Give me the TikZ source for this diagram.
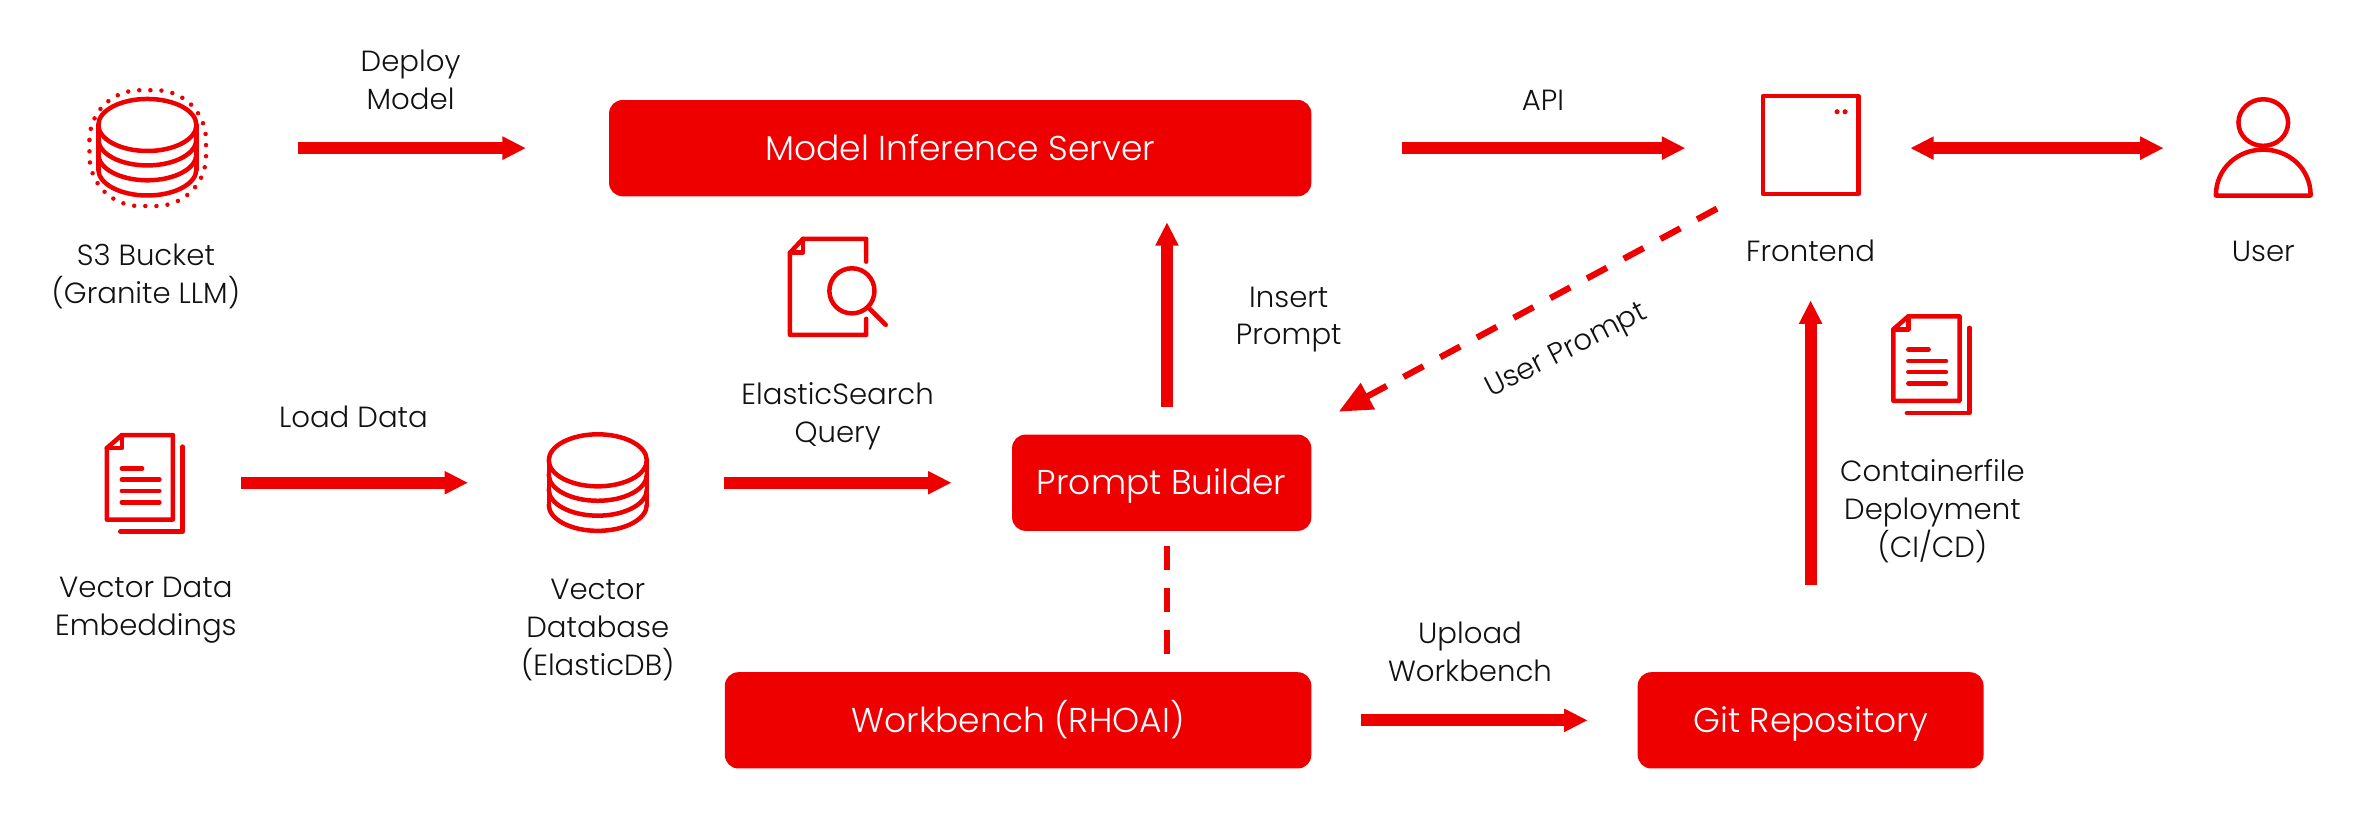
\documentclass[tikz,border=0pt]{standalone}
\usepackage{xcolor}
\usepackage{fontspec}
\setmainfont{Poppins Light}
\definecolor{hatred}{HTML}{EE0000}
\definecolor{inkblack}{HTML}{111111}
\usetikzlibrary{arrows.meta}
\def\unitpx{0.03008cm}
\tikzset{
    boxnode/.style={fill=hatred, text=white, rounded corners=0.27cm, minimum height=1.925cm, inner sep=0pt, text height=16pt, text depth=2.2pt, font=\fontsize{19.6}{24}\selectfont},
    iconspot/.style={minimum size=66*\unitpx, inner sep=0pt},
    labeltext/.style={align=center, text=inkblack, inner sep=0pt},
    iconline/.style={draw=hatred, line width=0.09cm, line join=round, line cap=round},
    flowarrow/.style={draw=hatred, line width=0.24cm, -{Triangle[length=0.47cm,width=0.435cm]}},
    diagdash/.style={draw=hatred, line width=0.125cm, dash pattern=on 15*\unitpx off 12.7*\unitpx},
    vertdash/.style={draw=hatred, line width=0.12cm, dash pattern=on 16.4*\unitpx off 11.7*\unitpx},
    docicon/.pic={
        \draw[iconline] (0,10) -- (10,1.3) -- (44,1.3) -- (44,57.5) -- (0,57.5) -- cycle;
        \draw[iconline] (0,10) -- (10,10) -- (10,1.3);
        \draw[iconline] (50.5,9) -- (50.5,65.5) -- (9,65.5);
        \draw[iconline] (10,23.5) -- (23.5,23.5);
        \draw[iconline] (10,31) -- (35,31);
        \draw[iconline] (10,38.4) -- (35,38.4);
        \draw[iconline] (10,46) -- (35,46);
    },
    dbicon/.pic={
        \draw[iconline] (0,18.6) ellipse [x radius=32.6, y radius=17.3];
        \draw[iconline] (-32.6,18.6) -- (-32.6,48.2);
        \draw[iconline] (32.6,18.6) -- (32.6,48.2);
        \draw[iconline] (-32.6,28.2) arc [start angle=180, end angle=0, x radius=32.6, y radius=17.3];
        \draw[iconline] (-32.6,38.1) arc [start angle=180, end angle=0, x radius=32.6, y radius=17.3];
        \draw[iconline] (-32.6,48.2) arc [start angle=180, end angle=0, x radius=32.6, y radius=17.3];
    }
}

\begin{document}
\begin{tikzpicture}[x=\unitpx, y=-\unitpx]
    \fontsize{16.6}{21.6}\selectfont
    \useasboundingbox (0,0) rectangle (1568,544);

    % Boxes
    \node[boxnode, minimum width=467*\unitpx] (model) at (638.5,98.5) {Model Inference Server};
    \node[boxnode, minimum width=199*\unitpx] (prompt) at (772.5,321) {Prompt Builder};
    \node[boxnode, minimum width=390*\unitpx] (workbench) at (677,479) {Workbench (RHOAI)};
    \node[boxnode, minimum width=230*\unitpx] (git) at (1204,479) {Git Repository};

    % Icon places
    \node[iconspot] (s3) at (98,98.5) {};
    \node[iconspot] (frontend) at (1204,98.5) {};
    \node[iconspot] (user) at (1505,98.5) {};
    \node[iconspot] (embeddings) at (97,321) {};
    \node[iconspot] (vectordb) at (397.5,321) {};

    % S3 icon
    \pic at (98,64.5) {dbicon};
    \draw[draw=hatred, line width=0.09cm, line cap=round, dash pattern=on 0pt off 7.4*\unitpx, rounded corners=1cm] (59.5,60) rectangle (137,137);

    % Frontend icon
    \draw[iconline] (1172.3,64) rectangle (1235.7,129);
    \fill[hatred] (1221.6,74.3) circle (1.7);
    \fill[hatred] (1226.9,74.3) circle (1.7);

    % User icon
    \draw[iconline] (1505,81.5) ellipse [x radius=16.5, y radius=15.5];
    \draw[iconline] (1473.5,130) .. controls (1473.5,112) and (1488,99.5) .. (1505,99.5) .. controls (1522,99.5) and (1536.5,112) .. (1536.5,130) -- cycle;

    % Document icons
    \pic at (71,288) {docicon};
    \pic at (1259,209) {docicon};
    \pic at (397.5,287.5) {dbicon};

    % Search icon
    \draw[iconline] (576,174) -- (576,158.8) -- (534,158.8) -- (525.3,168) -- (525.3,222.7) -- (576,222.7) -- (576,212);
    \draw[iconline] (525.3,168) -- (534,168) -- (534,158.8);
    \draw[iconline] (566.5,193.4) circle (15);
    \draw[iconline] (577.5,204.5) -- (589,216);

    % Labels
    \node[labeltext] (s3label) at (97,184) {S3 Bucket\\(Granite LLM)};
    \node[labeltext] (deploylabel) at (273,53) {Deploy\\Model};
    \node[labeltext] (apilabel) at (1026,67) {API};
    \node[labeltext] (frontendlabel) at (1204,167) {Frontend};
    \node[labeltext] (userlabel) at (1505,167) {User};
    \node[labeltext] (insertlabel) at (857,212.5) {Insert\\Prompt};
    \node[labeltext] (querylabel) at (557,277) {ElasticSearch\\Query};
    \node[labeltext] (loadlabel) at (235,277) {Load Data};
    \node[labeltext] (embedlabel) at (97,406) {Vector Data\\Embeddings};
    \node[labeltext] (dblabel) at (397.5,419) {Vector\\Database\\(ElasticDB)};
    \node[labeltext] (uploadlabel) at (977.5,433.5) {Upload\\Workbench};
    \node[labeltext] (cilabel) at (1285,340) {Containerfile\\Deployment\\(CI/CD)};
    \node[labeltext, rotate=27] (userpromptlabel) at (1042,234) {User Prompt};

    % Arrows
    \draw[flowarrow, shorten <=67*\unitpx, shorten >=55*\unitpx] (s3) -- (model);
    \draw[flowarrow, shorten <=60*\unitpx, shorten >=50*\unitpx] (model) -- (frontend.west);
    \draw[flowarrow, {Triangle[length=0.47cm,width=0.435cm]}-{Triangle[length=0.47cm,width=0.435cm]}, shorten <=33*\unitpx, shorten >=33*\unitpx] (frontend) -- (user);
    \draw[flowarrow, shorten <=30*\unitpx, shorten >=53*\unitpx] (embeddings) -- (vectordb);
    \draw[flowarrow, shorten <=50.5*\unitpx, shorten >=40*\unitpx] (vectordb) -- (prompt);
    \draw[flowarrow, shorten <=33*\unitpx, shorten >=33*\unitpx] (workbench) -- (git);
    \draw[flowarrow, shorten <=58*\unitpx, shorten >=68*\unitpx] (git) -- (frontend);
    \draw[flowarrow, shorten <=18*\unitpx, shorten >=17*\unitpx] ([xshift=3.5*\unitpx]prompt.north) -- ([xshift=3.5*\unitpx]prompt.north |- model.south);

    % Dashed links
    \draw[diagdash, -{Triangle[length=0.66cm,width=0.57cm]}] ([shift={(-29,7)}]frontend.south west) -- ([shift={(18,-15)}]prompt.north east);
    \draw[vertdash] ([xshift=3.3*\unitpx,yshift=-9.5*\unitpx]prompt.south) -- ([xshift=3.3*\unitpx,yshift=12*\unitpx]prompt.south |- workbench.north);
\end{tikzpicture}
\end{document}
